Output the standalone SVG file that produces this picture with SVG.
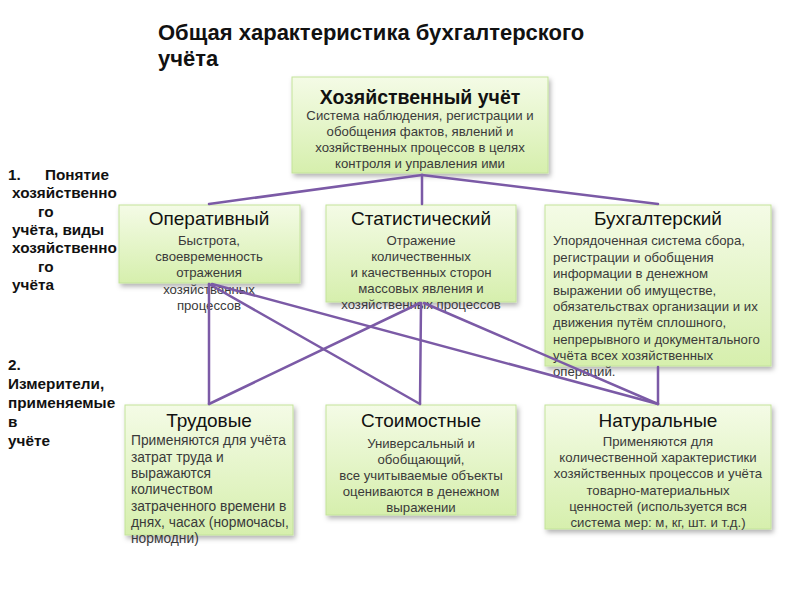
<svg xmlns="http://www.w3.org/2000/svg" width="800" height="600" viewBox="0 0 800 600">
<defs>
<linearGradient id="g" x1="0" y1="0" x2="0" y2="1">
<stop offset="0" stop-color="#f4fbe6"/>
<stop offset="1" stop-color="#d6efad"/>
</linearGradient>
<filter id="sh" x="-10%" y="-10%" width="130%" height="130%">
<feDropShadow dx="2" dy="3" stdDeviation="2.5" flood-color="#000" flood-opacity="0.3"/>
</filter>
</defs>
<style>
.box{fill:url(#g);stroke:#c3e39a;stroke-width:1;filter:url(#sh)}
.t{font-family:"Liberation Sans",Arial,sans-serif;font-size:19px;fill:#111;text-anchor:middle}
.tb{font-family:"Liberation Sans",Arial,sans-serif;font-size:19.5px;font-weight:bold;fill:#111;text-anchor:middle}
.b{font-family:"Liberation Sans",Arial,sans-serif;font-size:13.2px;fill:#3a3a3a;text-anchor:middle}
.bl{font-family:"Liberation Sans",Arial,sans-serif;font-size:13.2px;fill:#3a3a3a}
.bt{font-size:13.8px}
.h{font-family:"Liberation Sans",Arial,sans-serif;font-size:22px;font-weight:bold;fill:#111}
.s{font-family:"Liberation Sans",Arial,sans-serif;font-size:15.3px;font-weight:bold;fill:#111}
.c{stroke:#7b5aa6;stroke-width:2.5;fill:none;stroke-linecap:round}
</style>
<text class="h" x="158" y="40">Общая характеристика бухгалтерского</text>
<text class="h" x="158" y="66">учёта</text>
<g id="side1">
<text class="s" x="8" y="180">1.</text>
<text class="s" x="45" y="180">Понятие</text>
<text class="s" x="12" y="198">хозяйственно</text>
<text class="s" x="38" y="217">го</text>
<text class="s" x="12" y="235">учёта, виды</text>
<text class="s" x="12" y="253">хозяйственно</text>
<text class="s" x="38" y="272">го</text>
<text class="s" x="12" y="290">учёта</text>
</g>
<g id="side2">
<text class="s" x="8" y="370">2.</text>
<text class="s" x="8" y="389">Измерители,</text>
<text class="s" x="8" y="408">применяемые</text>
<text class="s" x="8" y="427">в</text>
<text class="s" x="8" y="446">учёте</text>
</g>
<g id="n_main">
<rect class="box" x="292" y="77" width="256" height="96"/>
<text class="tb" x="420" y="104">Хозяйственный учёт</text>
<text class="b" x="420" y="120">Система наблюдения, регистрации и</text>
<text class="b" x="420" y="136">обобщения фактов, явлений и</text>
<text class="b" x="420" y="152">хозяйственных процессов в целях</text>
<text class="b" x="420" y="168">контроля и управления ими</text>
</g>
<g id="n_oper">
<rect class="box" x="119" y="205" width="181" height="78"/>
<text class="t" x="209" y="225">Оперативный</text>
<text class="b" x="209" y="245">Быстрота,</text>
<text class="b" x="209" y="261">своевременность</text>
<text class="b" x="209" y="277">отражения</text>
<text class="b" x="209" y="294">хозяйственных</text>
<text class="b" x="209" y="310">процессов</text>
</g>
<g id="n_stat">
<rect class="box" x="326" y="205" width="190" height="97"/>
<text class="t" x="421" y="225">Статистический</text>
<text class="b" x="421" y="245">Отражение</text>
<text class="b" x="421" y="261">количественных</text>
<text class="b" x="421" y="277">и качественных сторон</text>
<text class="b" x="421" y="293">массовых явления и</text>
<text class="b" x="421" y="309">хозяйственных процессов</text>
</g>
<g id="n_buh">
<rect class="box" x="545" y="205" width="226" height="161"/>
<text class="t" x="658" y="225">Бухгалтерский</text>
<text class="bl" x="553" y="245">Упорядоченная система сбора,</text>
<text class="bl" x="553" y="262">регистрации и обобщения</text>
<text class="bl" x="553" y="278">информации в денежном</text>
<text class="bl" x="553" y="295">выражении об имуществе,</text>
<text class="bl" x="553" y="311">обязательствах организации и их</text>
<text class="bl" x="553" y="327">движения  путём сплошного,</text>
<text class="bl" x="553" y="344">непрерывного и документального</text>
<text class="bl" x="553" y="360">учёта всех хозяйственных</text>
<text class="bl" x="553" y="376">операций.</text>
</g>
<g id="n_trud">
<rect class="box" x="125" y="405" width="168" height="130"/>
<text class="t" x="209" y="427">Трудовые</text>
<text class="bl bt" x="131" y="445">Применяются для учёта</text>
<text class="bl bt" x="131" y="462">затрат труда и</text>
<text class="bl bt" x="131" y="478">выражаются</text>
<text class="bl bt" x="131" y="494">количеством</text>
<text class="bl bt" x="131" y="511">затраченного  времени в</text>
<text class="bl bt" x="131" y="527">днях, часах (нормочасы,</text>
<text class="bl bt" x="131" y="543">нормодни)</text>
</g>
<g id="n_stoim">
<rect class="box" x="326" y="405" width="190" height="110"/>
<text class="t" x="421" y="427">Стоимостные</text>
<text class="b" x="421" y="448">Универсальный и</text>
<text class="b" x="421" y="464">обобщающий,</text>
<text class="b" x="421" y="480">все учитываемые объекты</text>
<text class="b" x="421" y="496">оцениваются в денежном</text>
<text class="b" x="421" y="512">выражении</text>
</g>
<g id="n_nat">
<rect class="box" x="545" y="405" width="226" height="124"/>
<text class="t" x="658" y="427">Натуральные</text>
<text class="b" x="658" y="446">Применяются для</text>
<text class="b" x="658" y="462">количественной  характеристики</text>
<text class="b" x="658" y="478">хозяйственных процессов и учёта</text>
<text class="b" x="658" y="495">товарно-материальных</text>
<text class="b" x="658" y="511">ценностей  (используется вся</text>
<text class="b" x="658" y="527">система мер: м, кг, шт. и т.д.)</text>
</g>
<g id="connectors">
<line class="c" x1="422" y1="175" x2="209" y2="204"/>
<line class="c" x1="422" y1="175" x2="422" y2="204"/>
<line class="c" x1="422" y1="175" x2="658" y2="204"/>
<line class="c" x1="209" y1="284" x2="209" y2="404"/>
<line class="c" x1="209" y1="284" x2="420" y2="404"/>
<line class="c" x1="212" y1="284" x2="658" y2="404"/>
<line class="c" x1="420" y1="303" x2="209" y2="404"/>
<line class="c" x1="421" y1="303" x2="420" y2="404"/>
<line class="c" x1="424" y1="303" x2="658" y2="404"/>
<line class="c" x1="658" y1="367" x2="658" y2="404"/>
</g>
</svg>
